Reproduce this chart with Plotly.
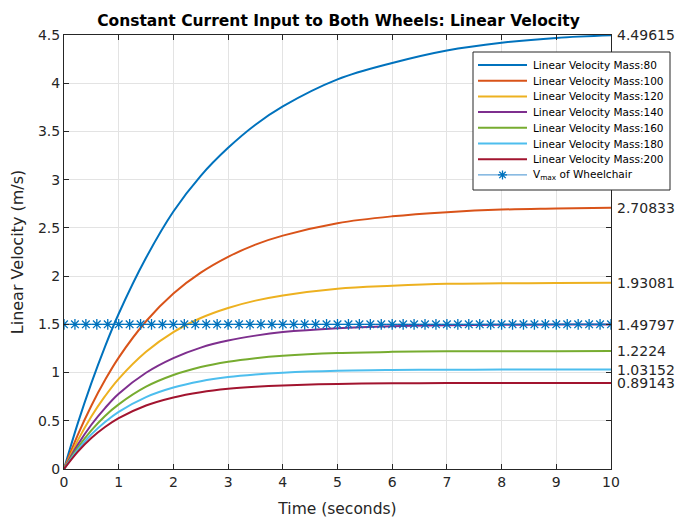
import plotly.graph_objects as go

# Sample times (s) and linear velocity (m/s) for each wheelchair mass
t = [0, 0.25, 0.5, 0.75, 1, 1.5, 2, 2.5, 3, 3.5, 4, 5, 6, 7, 8, 9, 10]

v_m80 = [0, 0.47, 0.89, 1.27, 1.61, 2.19, 2.67, 3.04, 3.33, 3.57, 3.76, 4.04, 4.21, 4.34, 4.42, 4.47, 4.49615]
v_m100 = [0, 0.351, 0.656, 0.922, 1.155, 1.532, 1.82, 2.036, 2.20, 2.327, 2.42, 2.549, 2.62, 2.663, 2.69, 2.70, 2.70833]
v_m120 = [0, 0.294, 0.544, 0.755, 0.935, 1.216, 1.42, 1.566, 1.67, 1.746, 1.80, 1.87, 1.90, 1.92, 1.925, 1.929, 1.93081]
v_m140 = [0, 0.25, 0.459, 0.632, 0.78, 0.998, 1.15, 1.259, 1.332, 1.383, 1.42, 1.46, 1.48, 1.49, 1.495, 1.497, 1.49797]
v_m160 = [0, 0.22, 0.40, 0.55, 0.67, 0.853, 0.974, 1.057, 1.112, 1.149, 1.174, 1.202, 1.2145, 1.22, 1.221, 1.222, 1.2224]
v_m180 = [0, 0.199, 0.359, 0.488, 0.593, 0.746, 0.845, 0.910, 0.953, 0.980, 0.998, 1.018, 1.026, 1.029, 1.031, 1.0315, 1.03152]
v_m200 = [0, 0.178, 0.321, 0.435, 0.527, 0.658, 0.742, 0.796, 0.831, 0.853, 0.867, 0.882, 0.888, 0.8905, 0.891, 0.8913, 0.89143]

masses = [80, 100, 120, 140, 160, 180, 200]
series = [v_m80, v_m100, v_m120, v_m140, v_m160, v_m180, v_m200]
end_labels = ["4.49615", "2.70833", "1.93081", "1.49797", "1.2224", "1.03152", "0.89143"]

# Maximum wheelchair speed, marked every 0.2 s
VMAX = 1.5
vmax_t = [i / 5 for i in range(51)]
vmax_v = [VMAX] * len(vmax_t)

colors = ["#0072BD", "#D95319", "#EDB120", "#7E2F8E", "#77AC30", "#4DBEEE", "#A2142F"]
VMAX_LINE = "#3f8fd0"
VMAX_MARK = "#0072BD"
INK = "#262626"
FONT = "DejaVu Sans, sans-serif"

# Figure geometry (pixels)
W, H = 679, 521
ML, MR, MT, MB = 64, 68, 35, 52
PW, PH = W - ML - MR, H - MT - MB


def paper_x(px):
    return (px - ML) / PW


def paper_y(py):
    return (H - MB - py) / PH


fig = go.Figure()
for m, v, c in zip(masses, series, colors):
    fig.add_trace(go.Scatter(
        x=t, y=v, mode="lines", name=f"Linear Velocity Mass:{m}",
        line=dict(color=c, width=2, shape="spline", smoothing=1.0),
        showlegend=False,
    ))

fig.add_trace(go.Scatter(
    x=vmax_t, y=vmax_v, mode="lines+markers", name="V<sub>max</sub> of Wheelchair",
    line=dict(color=VMAX_LINE, width=1),
    marker=dict(symbol="asterisk-open", size=9, color=VMAX_MARK,
                line=dict(color=VMAX_MARK, width=1.3)),
    showlegend=False,
))

# Final-value labels at the right end of each curve
for v, lab in zip(series, end_labels):
    fig.add_annotation(
        x=t[-1], y=v[-1], text=lab, showarrow=False, xanchor="left", yanchor="middle",
        xshift=4, font=dict(size=14, color=INK, family=FONT),
    )

# Boxed legend in the upper right, drawn in paper space
box_l, box_r, box_t, box_b = 473, 670, 52, 190
row0, row_step = 65, 15.7
line_l, line_r, text_l = 478, 527, 531

fig.add_shape(type="rect", xref="paper", yref="paper", layer="above",
              x0=paper_x(box_l), x1=paper_x(box_r), y0=paper_y(box_b), y1=paper_y(box_t),
              line=dict(color=INK, width=1), fillcolor="white")

legend_names = [f"Linear Velocity Mass:{m}" for m in masses] + ["V<sub>max</sub> of Wheelchair"]
legend_colors = colors + [VMAX_LINE]
for i, (name, c) in enumerate(zip(legend_names, legend_colors)):
    yc = row0 + i * row_step
    is_vmax = i == len(masses)
    fig.add_shape(type="line", xref="paper", yref="paper", layer="above",
                  x0=paper_x(line_l), x1=paper_x(line_r), y0=paper_y(yc), y1=paper_y(yc),
                  line=dict(color=c, width=1 if is_vmax else 2))
    fig.add_annotation(x=paper_x(text_l), y=paper_y(yc), xref="paper", yref="paper",
                       text=name, showarrow=False, xanchor="left", yanchor="middle",
                       font=dict(size=10.5, color="#000000", family=FONT))
    if is_vmax:
        fig.add_shape(type="path", xref="paper", yref="paper", layer="above",
                      xsizemode="pixel", ysizemode="pixel",
                      xanchor=paper_x((line_l + line_r) / 2), yanchor=paper_y(yc),
                      path="M-4.5,0 L4.5,0 M0,-4.5 L0,4.5 M-3.2,-3.2 L3.2,3.2 M-3.2,3.2 L3.2,-3.2",
                      line=dict(color=VMAX_MARK, width=1.3))

axis_common = dict(
    showgrid=True, gridcolor="#e3e3e3", gridwidth=1,
    showline=True, linecolor=INK, linewidth=1, mirror="ticks",
    ticks="inside", ticklen=5, tickcolor=INK, automargin=False,
    tickfont=dict(size=14, color=INK, family=FONT), zeroline=False,
)

fig.update_layout(
    width=W, height=H,
    margin=dict(l=ML, r=MR, t=MT, b=MB, autoexpand=False),
    paper_bgcolor="white", plot_bgcolor="white",
    font=dict(family=FONT, color=INK),
    title=dict(text="<b>Constant Current Input to Both Wheels: Linear Velocity</b>",
               x=338.5 / W, xref="container", xanchor="center",
               y=1 - 21 / H, yanchor="middle",
               font=dict(size=15.5, color="#000000", family=FONT)),
    xaxis=dict(range=[0, 10], dtick=1,
               title=dict(text="Time (seconds)", font=dict(size=15.5, family=FONT), standoff=14),
               **axis_common),
    yaxis=dict(range=[0, 4.5], dtick=0.5,
               title=dict(text="Linear Velocity (m/s)", font=dict(size=16, family=FONT), standoff=10),
               **axis_common),
    showlegend=False,
)

fig.write_html("out.html")
